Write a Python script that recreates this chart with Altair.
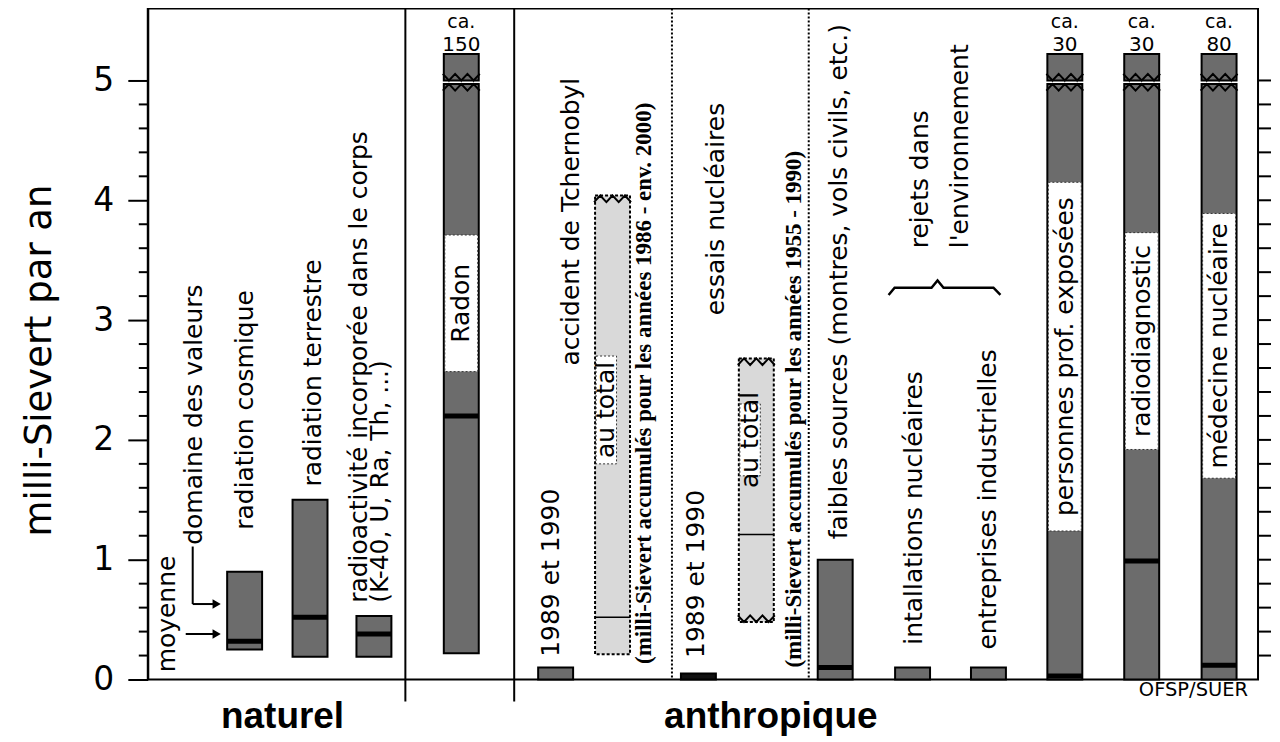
import altair as alt
import pandas as pd

# ---------------- data (mSv per year) ----------------
categories = [
    "radiation cosmique", "radiation terrestre", "radioactivité incorporée", "Radon",
    "Tchernobyl 1989-1990", "Tchernobyl au total", "essais 1989-1990", "essais au total",
    "faibles sources", "installations nucléaires", "entreprises industrielles",
    "personnes prof. exposées", "radiodiagnostic", "médecine nucléaire",
]
range_low = [0.25, 0.19, 0.19, 0.22, 0.0, 0.21, 0.0, 0.48, 0.0, 0.0, 0.0, 0.0, 0.0, 0.0]
range_high = [0.90, 1.50, 0.53, 4.97, 0.10, 4.04, 0.05, 2.68, 1.00, 0.10, 0.10, 4.97, 4.97, 4.97]
mean_val = [0.32, 0.52, 0.38, 2.20, None, 0.52, None, 1.21, 0.10, None, None, 0.03, 0.99, 0.12]
fill_kind = ["hatch", "hatch", "hatch", "hatch", "hatch", "dots", "solid", "dots",
             "hatch", "hatch", "hatch", "hatch", "hatch", "hatch"]

# broken bars (value far above the axis)
broken_cats = ["Radon", "personnes prof. exposées", "radiodiagnostic", "médecine nucléaire"]
broken_value_text = ["150", "30", "30", "80"]
broken_piece = [5.0, 5.22]

# open (wavy) ends of bars: (category, edge value, side)
wavy_edges = [
    ("Radon", 4.97, "top"), ("personnes prof. exposées", 4.97, "top"),
    ("radiodiagnostic", 4.97, "top"), ("médecine nucléaire", 4.97, "top"),
    ("Radon", 5.0, "bottom"), ("personnes prof. exposées", 5.0, "bottom"),
    ("radiodiagnostic", 5.0, "bottom"), ("médecine nucléaire", 5.0, "bottom"),
    ("Tchernobyl au total", 4.04, "top"), ("essais au total", 2.68, "top"),
    ("essais au total", 0.48, "bottom"),
]

# white label boxes inside bars
box_cats = ["Radon", "Tchernobyl au total", "essais au total",
            "personnes prof. exposées", "radiodiagnostic", "médecine nucléaire"]
box_text = ["Radon", "au total", "au total", "personnes prof. exposées",
            "radiodiagnostic", "médecine nucléaire"]
box_low = [2.57, 1.80, 1.70, 1.24, 1.92, 1.68]
box_high = [3.71, 2.70, 2.30, 4.15, 3.73, 3.89]

y_major = [0, 1, 2, 3, 4, 5]
y_minor = [round(0.2 * i, 1) for i in range(1, 25) if i % 5 != 0]
y_right = [round(0.2 * i, 1) for i in range(1, 26)]

# ---------------- layout (plot units, separate from data) ----------------
W, H = 1112, 672
col_center = [97, 162.5, 226.5, 314, 408.5, 465.5, 551.5, 609.5, 688.5, 766, 842, 918.5, 995.5, 1073]
half_w = 17.5
sep_solid = [258, 367]
sep_dotted = [525, 662]
FONT = "DejaVu Sans"
HATCH = "#6c6c6c"
TOOTH = 0.055

xs = alt.Scale(domain=[0, W], nice=False, zero=False)
ys = alt.Scale(domain=[0, 5.6], nice=False, zero=False)

pos = dict(zip(categories, col_center))

bars = pd.DataFrame({
    "cat": categories, "lo": range_low, "hi": range_high, "mean": mean_val, "kind": fill_kind,
    "x0": [c - half_w for c in col_center], "x1": [c + half_w for c in col_center],
})
color_of = {"hatch": HATCH, "dots": "#d9d9d9", "solid": "#111111"}
bars["fill"] = bars["kind"].map(color_of)

yaxis = alt.Axis(
    values=y_major, tickSize=20, tickWidth=2, tickColor="black", domain=True, domainColor="black",
    domainWidth=2, labelFont=FONT, labelFontSize=33, labelColor="black", labelPadding=14,
    grid=False, title="milli-Sievert par an", titleFont=FONT, titleFontSize=37,
    titleFontWeight="normal", titleColor="black", titleAngle=270, titleX=-108, titleY=352,
    titleAlign="center", titleBaseline="middle",
)

X = lambda f: alt.X(f, scale=xs, axis=None)
Y = lambda f: alt.Y(f, scale=ys, axis=yaxis)

solid_bars = alt.Chart(bars[bars.kind != "dots"]).mark_rect(stroke="black", strokeWidth=2).encode(
    x=X("x0:Q"), x2="x1:Q", y=Y("lo:Q"), y2="hi:Q",
    fill=alt.Fill("fill:N", scale=None),
)
dot_bars = alt.Chart(bars[bars.kind == "dots"]).mark_rect(
    stroke="black", strokeWidth=2, strokeDash=[3, 2]).encode(
    x=X("x0:Q"), x2="x1:Q", y=Y("lo:Q"), y2="hi:Q", fill=alt.Fill("fill:N", scale=None),
)

# top pieces of broken bars
top = pd.DataFrame({"cat": broken_cats, "txt": broken_value_text})
top["x0"] = [pos[c] - half_w for c in broken_cats]
top["x1"] = [pos[c] + half_w for c in broken_cats]
top["xc"] = [pos[c] for c in broken_cats]
top["lo"] = broken_piece[0]
top["hi"] = broken_piece[1]
top["ca"] = "ca."
top_bars = alt.Chart(top).mark_rect(fill=HATCH, stroke="black", strokeWidth=2).encode(
    x=X("x0:Q"), x2="x1:Q", y=Y("lo:Q"), y2="hi:Q")
top_ca = alt.Chart(top).mark_text(font=FONT, fontSize=19, baseline="alphabetic", color="black").encode(
    x=X("xc:Q"), y=alt.value(19), text="ca:N")
top_num = alt.Chart(top).mark_text(font=FONT, fontSize=20, baseline="alphabetic", color="black").encode(
    x=X("xc:Q"), y=alt.value(42), text="txt:N")

# zig-zag (torn) edges
zrows = []
for g, (cat, edge, side) in enumerate(wavy_edges):
    x0 = pos[cat] - half_w - 1
    n = 6
    for k in range(n + 1):
        xk = x0 + k * (2 * half_w + 2) / n
        if side == "top":
            yk = edge if k % 2 == 1 else edge - TOOTH
            yw = edge + 0.025
        else:
            yk = edge if k % 2 == 1 else edge + TOOTH
            yw = edge - 0.025
        zrows.append({"g": g, "o": k, "x": xk, "y": yk, "yw": yw})
zig = pd.DataFrame(zrows)
zig_cut = alt.Chart(zig).mark_area(fill="white", stroke=None, opacity=1).encode(
    x=X("x:Q"), y=Y("y:Q"), y2="yw:Q", detail="g:N", order="o:Q")
zig_line = alt.Chart(zig).mark_line(color="black", strokeWidth=2).encode(
    x=X("x:Q"), y=Y("y:Q"), detail="g:N", order="o:Q")

# label boxes
boxes = pd.DataFrame({"cat": box_cats, "txt": box_text, "lo": box_low, "hi": box_high})
boxes["x0"] = [pos[c] - half_w + 1 for c in box_cats]
boxes["x1"] = [pos[c] + (4 if c.endswith("au total") else half_w - 1) for c in box_cats]
boxes["xc"] = (boxes["x0"] + boxes["x1"]) / 2
boxes["ym"] = (boxes["lo"] + boxes["hi"]) / 2
box_rects = alt.Chart(boxes).mark_rect(fill="white", stroke="#333", strokeWidth=1, strokeDash=[2, 2]).encode(
    x=X("x0:Q"), x2="x1:Q", y=Y("lo:Q"), y2="hi:Q")
box_txt = alt.Chart(boxes).mark_text(font=FONT, fontSize=25, angle=270, align="center",
                                     baseline="middle", color="black").encode(
    x=X("xc:Q"), y=Y("ym:Q"), text="txt:N")

# mean markers
means = bars.dropna(subset=["mean"])
mean_thick = alt.Chart(means[means.kind != "dots"]).mark_rule(color="black", strokeWidth=5).encode(
    x=X("x0:Q"), x2="x1:Q", y=Y("mean:Q"))
mean_thin = alt.Chart(means[means.kind == "dots"]).mark_rule(color="black", strokeWidth=1.5).encode(
    x=X("x0:Q"), x2="x1:Q", y=Y("mean:Q"))

# separators
seps = pd.DataFrame({"x": sep_solid})
sep_s = alt.Chart(seps).mark_rule(color="black", strokeWidth=2).encode(
    x=X("x:Q"), y=alt.value(0), y2=alt.value(H + 22))
sepd = pd.DataFrame({"x": sep_dotted})
sep_d = alt.Chart(sepd).mark_rule(color="black", strokeWidth=2, strokeDash=[2, 2]).encode(
    x=X("x:Q"), y=alt.value(0), y2=alt.value(H))

# ticks
minor = alt.Chart(pd.DataFrame({"v": y_minor})).mark_rule(color="black", strokeWidth=2).encode(
    x=alt.value(-9), x2=alt.value(0), y=Y("v:Q"))
right = alt.Chart(pd.DataFrame({"v": y_right})).mark_rule(color="black", strokeWidth=2).encode(
    x=alt.value(W), x2=alt.value(W + 13), y=Y("v:Q"))

# "moyenne" / "domaine des valeurs" arrows
arrow_lines = pd.DataFrame({
    "x0": [38, 45, 45], "x1": [66, 45, 66],
    "y0": [0.38, 1.11, 0.63], "y1": [0.38, 0.63, 0.63],
})
arrows = alt.Chart(arrow_lines).mark_rule(color="black", strokeWidth=2).encode(
    x=X("x0:Q"), x2="x1:Q", y=Y("y0:Q"), y2="y1:Q")
heads = alt.Chart(pd.DataFrame({"x": [69, 69], "y": [0.38, 0.63]})).mark_point(
    shape="triangle-right", filled=True, color="black", size=90, opacity=1).encode(
    x=X("x:Q"), y=Y("y:Q"))

# brace for "rejets dans l'environnement"
brace = pd.DataFrame({
    "o": list(range(7)),
    "x": [742, 748, 785, 791, 797, 847, 854],
    "y": [3.21, 3.27, 3.27, 3.33, 3.27, 3.27, 3.21],
})
brace_line = alt.Chart(brace).mark_line(color="black", strokeWidth=2.5).encode(
    x=X("x:Q"), y=Y("y:Q"), order="o:Q")

# rotated labels (start at anchor, read upwards)
labels = pd.DataFrame({
    "txt": ["moyenne", "domaine des valeurs", "radiation cosmique", "radiation terrestre",
            "radioactivité incorporée dans le corps", "(K-40, U, Ra, Th, ...)",
            "1989 et 1990", "accident de Tchernobyl", "1989 et 1990", "essais nucléaires",
            "faibles sources (montres, vols civils, etc.)", "intallations nucléaires",
            "entreprises industrielles", "rejets dans", "l'environnement"],
    "x": [19, 46, 97, 165, 212, 233, 404, 424, 549, 569, 692, 767, 842, 773, 814],
    "y": [0.06, 1.125, 1.25, 1.61, 0.64, 0.64, 0.19, 2.62, 0.18, 3.04, 1.17, 0.29, 0.25, 3.6, 3.6],
})
lab = alt.Chart(labels).mark_text(font=FONT, fontSize=25, angle=270, align="left",
                                  baseline="middle", color="black").encode(
    x=X("x:Q"), y=Y("y:Q"), text="txt:N")

notes = pd.DataFrame({
    "txt": ["(milli-Sievert accumulés pour les  années  1986 - env. 2000)",
            "(milli-Sievert accumulés pour les années  1955 - 1990)"],
    "x": [497, 647], "y": [0.13, 0.10],
})
note = alt.Chart(notes).mark_text(font="Liberation Serif", fontWeight="bold", fontSize=23, angle=270,
                                  align="left", baseline="middle", color="black").encode(
    x=X("x:Q"), y=Y("y:Q"), text="txt:N")

groups = pd.DataFrame({"txt": ["naturel", "anthropique"], "x": [135, 624], "y": [-0.31, -0.31]})
grp = alt.Chart(groups).mark_text(font="Liberation Sans", fontWeight="bold", fontSize=37,
                                  align="center", baseline="middle", color="black").encode(
    x=X("x:Q"), y=Y("y:Q"), text="txt:N")

src = alt.Chart(pd.DataFrame({"txt": ["OFSP/SUER"], "x": [1102], "y": [-0.085]})).mark_text(
    font=FONT, fontSize=19.5, align="right", baseline="middle", color="black").encode(
    x=X("x:Q"), y=Y("y:Q"), text="txt:N")

chart = alt.layer(
    solid_bars, dot_bars, top_bars, zig_cut, zig_line, box_rects, mean_thick, mean_thin, box_txt,
    top_ca, top_num, sep_s, sep_d, minor, right, arrows, heads, brace_line, lab, note, grp, src,
).properties(
    width=W, height=H,
    autosize=alt.AutoSizeParams(type="none"),
    padding={"left": 140, "top": 0, "right": 14, "bottom": 62},
    background="white",
).configure_view(stroke="black", strokeWidth=2)

chart.save("out.html", embed_options={"renderer": "svg", "actions": False})
